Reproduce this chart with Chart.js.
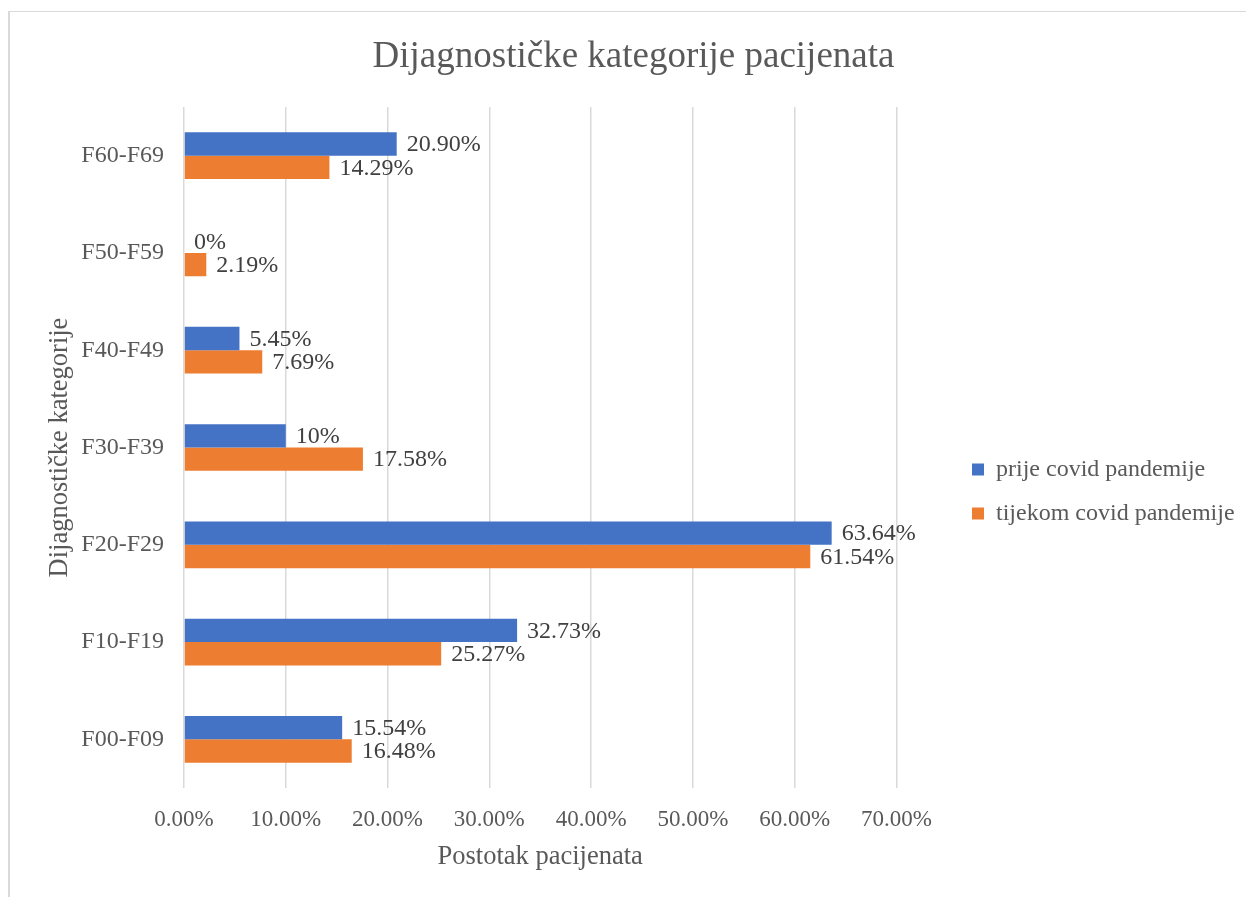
<!DOCTYPE html>
<html>
<head>
<meta charset="utf-8">
<script src="https://cdn.jsdelivr.net/npm/chart.js@4"></script>
<style>
  html, body { margin: 0; padding: 0; background: #fff; }
  #wrap { position: relative; width: 1246px; height: 897px; }
  #frame { position: absolute; left: 8px; top: 11px; right: 0; bottom: 0; border-left: 2px solid #d9d9d9; border-top: 1.5px solid #d9d9d9; pointer-events: none; }
</style>
</head>
<body>
<div id="wrap">
  <canvas id="chart" width="1246" height="897"></canvas>
  <div id="frame"></div>
</div>
<script>
// Dijagnosticke kategorije - podaci
const categories = ['F60-F69', 'F50-F59', 'F40-F49', 'F30-F39', 'F20-F29', 'F10-F19', 'F00-F09'];
const seriesNames = ['prije covid pandemije', 'tijekom covid pandemije'];
const prijeValues = [20.90, 0, 5.45, 10, 63.64, 32.73, 15.54];
const tijekomValues = [14.29, 2.19, 7.69, 17.58, 61.54, 25.27, 16.48];
const prijeLabels = ['20.90%', '0%', '5.45%', '10%', '63.64%', '32.73%', '15.54%'];
const tijekomLabels = ['14.29%', '2.19%', '7.69%', '17.58%', '61.54%', '25.27%', '16.48%'];
const xTicks = [0, 10, 20, 30, 40, 50, 60, 70];

const FONT = "'Liberation Serif', 'Times New Roman', serif";
const GREY = '#595959';

// labels at the end of each bar
const barLabels = {
    id: 'barLabels',
    afterDatasetsDraw(chart) {
        const ctx = chart.ctx;
        ctx.save();
        ctx.font = '24px ' + FONT;
        ctx.fillStyle = '#404040';
        ctx.textAlign = 'left';
        ctx.textBaseline = 'middle';
        chart.data.datasets.forEach((ds, i) => {
            const meta = chart.getDatasetMeta(i);
            meta.data.forEach((bar, j) => {
                ctx.fillText(ds.valueLabels[j], bar.x + 10, bar.y + 1);
            });
        });
        ctx.restore();
    }
};

// legend + title sit further right than chart.js puts them
const blockNudge = {
    id: 'blockNudge',
    afterLayout(chart) {
        const lg = chart.legend;
        if (lg) {
            const dx = 952 - lg.left;
            lg.left += dx; lg.right += dx;
            lg.top += 49; lg.bottom += 49;
        }
        const tb = chart.titleBlock;
        if (tb) { tb.left += 35; tb.right += 35; }
    }
};

new Chart(document.getElementById('chart'), {
    type: 'bar',
    data: {
        labels: categories,
        datasets: [
            { label: seriesNames[0], data: prijeValues, valueLabels: prijeLabels, backgroundColor: '#4472C4' },
            { label: seriesNames[1], data: tijekomValues, valueLabels: tijekomLabels, backgroundColor: '#ED7D31' }
        ]
    },
    options: {
        indexAxis: 'y',
        responsive: false,
        animation: false,
        categoryPercentage: 0.48,
        barPercentage: 1,
        layout: { padding: { top: 10, left: 8, right: 57, bottom: 22 } },
        plugins: {
            tooltip: { enabled: false },
            title: {
                display: true,
                text: 'Dijagnostičke kategorije pacijenata',
                color: GREY,
                font: { family: FONT, size: 37, weight: 'normal' },
                padding: { top: 25, bottom: 27.6 }
            },
            legend: {
                position: 'right',
                labels: {
                    color: GREY,
                    font: { family: FONT, size: 24 },
                    boxWidth: 12,
                    boxHeight: 12,
                    padding: 20
                }
            }
        },
        scales: {
            x: {
                min: 0,
                max: 70,
                afterBuildTicks: s => { s.ticks = xTicks.map(v => ({ value: v })); },
                afterFit: s => { s.height = 87; },
                ticks: {
                    color: GREY,
                    font: { family: FONT, size: 23 },
                    padding: 18,
                    maxRotation: 0,
                    callback: v => v.toFixed(2) + '%'
                },
                grid: { color: '#d9d9d9', lineWidth: 1.5, drawTicks: false },
                border: { display: false },
                title: {
                    display: true,
                    text: 'Postotak pacijenata',
                    color: GREY,
                    font: { family: FONT, size: 26.5 },
                    padding: { top: 9, bottom: 2 }
                }
            },
            y: {
                afterFit: s => { s.width = 176; },
                ticks: {
                    color: GREY,
                    font: { family: FONT, size: 24 },
                    padding: 20
                },
                grid: { display: false, drawTicks: false },
                border: { display: false },
                title: {
                    display: true,
                    text: 'Dijagnostičke kategorije',
                    color: GREY,
                    font: { family: FONT, size: 26.5 },
                    padding: { top: 36, bottom: 4 }
                }
            }
        }
    },
    plugins: [barLabels, blockNudge]
});
</script>
</body>
</html>
